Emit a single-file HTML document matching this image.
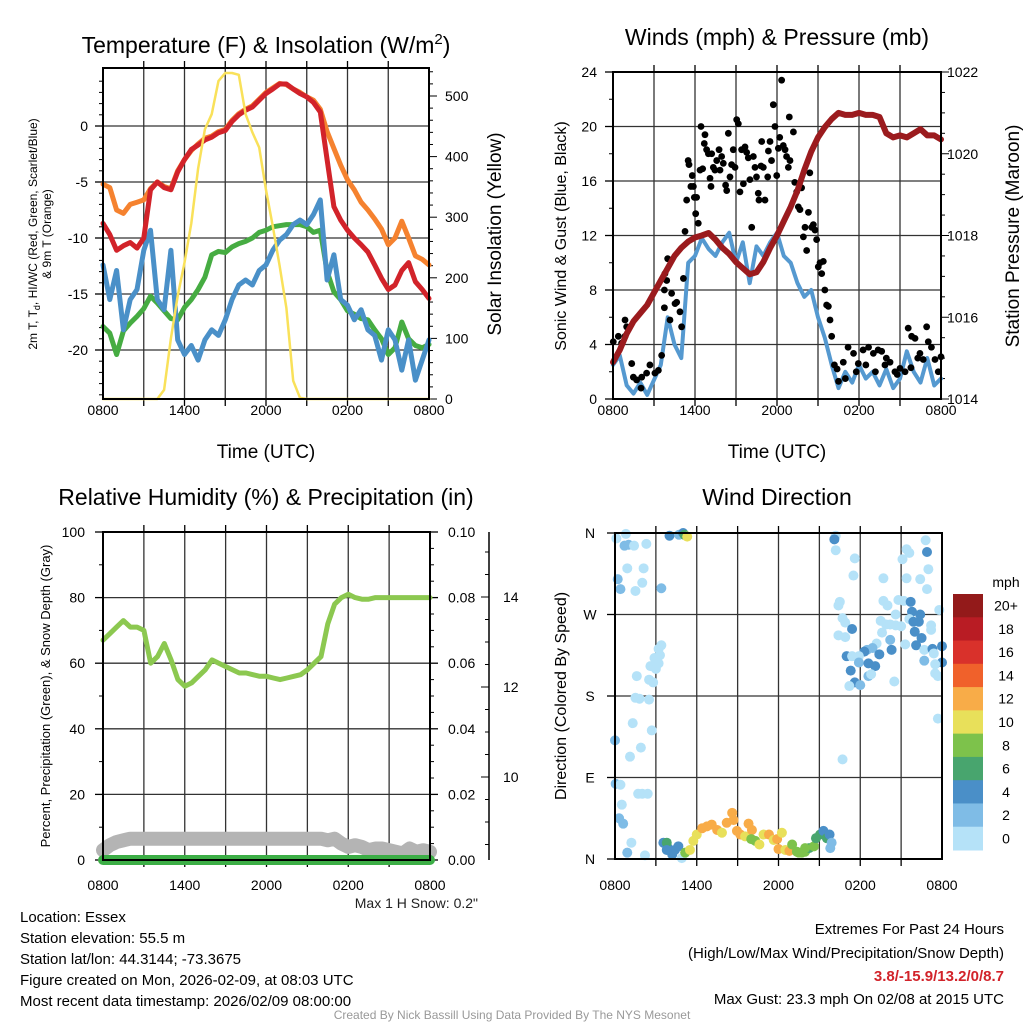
<!DOCTYPE html>
<html><head><meta charset="utf-8"><style>
body{margin:0;background:#fff;}
svg{display:block;font-family:"Liberation Sans",sans-serif;}
</style></head><body>
<svg id="s" width="1024" height="1024" viewBox="0 0 1024 1024">
</svg>
<script>
// ---------- DATA ----------
const hourTicks=["0800","1400","2000","0200","0800"];
const tempRed=[-8.7,-9.7,-11.1,-10.7,-10.4,-10.9,-10,-5.7,-5,-5.5,-5.7,-4.1,-3,-2.1,-1.7,-1.25,-1,-0.6,-0.4,0.4,1,1.4,1.7,2.3,2.9,3.3,3.75,3.75,3.3,2.9,2.6,2.1,1.25,-3,-7.2,-8.4,-9.3,-10,-10.6,-11.25,-12.4,-13.6,-14.6,-14.2,-12.9,-12.2,-13.9,-14.6,-15.4];
const tempOrange=[-5.2,-5.5,-7.5,-7.8,-7,-6.8,-6.6,-5.6,-5,-5.4,-5.6,-4,-3,-2.2,-1.6,-1.1,-0.9,-0.5,-0.3,0.5,1.1,1.5,1.8,2.4,3,3.4,3.8,3.7,3.3,3,2.6,2.3,1.5,-0.5,-2,-3.5,-4.8,-5.7,-6.8,-7.5,-8.3,-9.2,-10.6,-10,-8.5,-10,-11.6,-11.9,-12.4];
const tempGreen=[-17.9,-18.5,-20.4,-18.3,-17.6,-17,-16.3,-15.2,-15.8,-16.5,-17.2,-17.3,-16.2,-15.5,-14.6,-13.5,-11.5,-11.2,-11.3,-10.8,-10.5,-10.3,-10,-9.5,-9.3,-9,-8.9,-8.8,-8.8,-8.8,-9,-9.5,-9.3,-13,-14.8,-15.5,-16.5,-16.8,-17.2,-17.3,-18.2,-19,-20.4,-19.8,-17.5,-19,-19.6,-19.8,-19.5];
const tempBlue=[-12.4,-15.5,-12.9,-18.2,-15.5,-14.6,-11.1,-9.3,-15.5,-16.4,-11.1,-19.1,-20.4,-19.6,-20.9,-19.1,-18.2,-18.7,-17.3,-15.5,-14.2,-13.75,-14.2,-12.9,-12.4,-11.1,-10.2,-9.7,-8.8,-8.4,-8.8,-7.9,-6.6,-13.75,-11.5,-15.5,-16,-17.3,-16.4,-18.2,-18.7,-20.9,-18.2,-19.1,-21.8,-19.1,-22.7,-20.9,-19.1];
const solar=[0,0,0,0,0,0,0,0,0,15,100,170,225,290,380,445,470,525,538,538,535,470,440,415,345,285,220,150,30,2,0,0,0,0,0,0,0,0,0,0,0,0,0,0,0,0,0,0,0];
const tempTicks=[0,-5,-10,-15,-20];
const solarTicks=[0,100,200,300,400,500];

const windSpeed=[2.5,3.2,1.0,0.4,1.2,0.3,1.4,2.5,6.0,4.0,3.0,10.0,10.5,11.8,11.0,10.5,11.5,12.2,10.0,11.5,8.5,11.2,10.5,11.5,12.2,10.5,10.0,8.5,7.5,8.0,6.0,4.5,2.5,0.8,2.0,1.2,2.5,1.5,2.0,1.0,2.2,0.8,1.5,3.5,2.0,1.2,3.0,1.0,1.5];
const pressure=[1014.9,1015.2,1015.6,1015.9,1016.1,1016.3,1016.6,1016.9,1017.2,1017.5,1017.7,1017.85,1017.95,1018.0,1018.06,1017.9,1017.7,1017.55,1017.35,1017.2,1017.05,1017.1,1017.35,1017.7,1018.0,1018.35,1018.7,1019.1,1019.6,1020.05,1020.4,1020.65,1020.85,1021.0,1020.95,1020.95,1021.0,1020.95,1020.95,1020.9,1020.5,1020.4,1020.45,1020.4,1020.5,1020.6,1020.45,1020.45,1020.35];
const gustHours=[0.02,0.39,0.63,0.88,1.0,0.88,1.37,1.49,1.73,2.1,2.46,2.7,2.05,3.07,3.32,3.56,3.76,3.8,3.93,4.0,3.76,4.17,4.29,4.54,4.66,4.9,5.02,5.15,5.27,5.39,5.5,5.56,5.7,5.8,5.88,5.95,6.05,6.12,6.24,6.37,6.44,6.56,6.68,6.73,6.85,6.98,7.1,7.17,7.22,7.34,7.46,7.59,7.76,7.83,7.95,8.07,8.24,8.32,8.44,8.56,8.68,8.8,8.93,9.05,9.17,9.29,9.41,9.54,9.66,9.78,9.9,10.02,10.15,10.27,10.39,10.5,10.63,10.68,10.83,11.0,10.88,11.12,11.32,11.37,11.49,11.6,11.73,11.85,11.98,12.1,12.2,12.34,12.46,12.59,12.7,12.83,12.9,12.95,13.2,13.3,13.44,13.56,13.68,13.8,13.93,14.05,14.17,14.3,14.4,14.54,14.66,14.78,14.9,15.02,15.15,15.27,15.39,15.5,15.63,15.76,15.88,16.0,16.2,16.5,16.85,17.2,17.6,17.95,18.3,18.7,19.05,19.4,19.66,19.9,20.27,20.63,21.0,21.37,21.6,21.85,22.1,22.46,22.7,22.95,23.07,23.3,23.56,24.0,16.4,17.0,17.8,18.5,19.2,20.0,20.8,21.8,22.3,23.8];
const gustValues=[4.2,4.6,4.1,5.8,5.3,4.6,2.6,1.6,1.4,1.6,1.9,2.5,0.8,1.9,2.1,3.2,6.7,9.2,8.7,10.3,8.0,5.8,7.75,7.0,7.1,6.4,5.3,8.85,12.3,14.6,17.5,17.2,15.6,16.4,15.6,14.8,13.6,14.8,12.9,16.8,20.0,16.9,18.75,19.4,18.3,18.0,16.2,15.6,18.0,17.0,16.8,17.5,18.3,16.8,17.8,17.3,15.7,15.3,19.5,16.3,17.2,18.3,17.0,20.5,20.2,15.2,18.3,15.8,18.5,18.1,17.7,16.1,12.6,17.8,17.0,16.3,15.1,14.6,17.1,17.0,18.9,14.6,16.3,18.2,18.9,17.5,21.6,20.0,16.4,18.4,19.2,23.4,18.6,18.3,17.8,17.0,20.7,17.5,19.6,15.9,15.2,14.1,13.9,15.5,11.9,12.6,10.9,13.7,16.6,12.6,12.8,12.4,11.7,9.7,10.0,9.2,10.1,8.0,6.9,6.8,5.8,4.6,2.5,1.3,2.7,3.8,3.35,2.6,3.6,3.8,3.35,3.6,3.5,2.5,2.7,2.0,2.25,2.0,5.2,4.6,4.45,3.35,2.9,5.3,4.2,3.8,2.9,3.1,2.2,1.5,2.0,2.5,2.0,3.0,1.8,2.3,3.0,2.0];
const windTicks=[0,4,8,12,16,20,24];
const pressTicks=[1014,1016,1018,1020,1022];

const rhValues=[67,69,71,73,71,71,70,60,62,66,61,55,53,54,56,58,61,60,59,58,57,57,56.5,56,56,55.5,55,55.5,56,56.5,58,60,62,72,78,80,81,80,79.5,79.5,80,80,80,80,80,80,80,80,80];
const snowDepth=[3,4.5,5.5,6,6.5,6.5,6.5,6.5,6.5,6.5,6.5,6.5,6.5,6.5,6.5,6.5,6.5,6.5,6.5,6.5,6.5,6.5,6.5,6.5,6.5,6.5,6.5,6.5,6.5,6.5,6.5,6.5,6.5,6,6.5,5,4,4.5,4,3,3.5,3.5,3,2.5,2,3.5,2.5,3,2.5];
const precip=[0,0,0,0,0,0,0,0,0,0,0,0,0,0,0,0,0,0,0,0,0,0,0,0,0];
const rhTicks=[0,20,40,60,80,100];
const precipTicks=["0.00","0.02","0.04","0.06","0.08","0.10"];
const snowTicks=[10,12,14];

// wind direction scatter (hour since 0800, degrees, speed mph)
const dirHours=[
0.1,0.8,0.7,1.0,1.4,2.3,0.9,2.1,0.2,0.4,1.5,2.0,3.4,4.0,4.7,5.0,5.1,5.3,3.4,3.2,3.3,2.9,3.2,2.6,3.0,1.6,2.5,2.8,1.5,1.8,2.5,1.3,2.7,0.0,1.9,1.1,0.05,0.4,1.7,2.0,2.4,0.5,0.3,0.6,1.2,0.9,2.2,
3.55,3.9,4.2,4.4,3.8,4.65,4.9,5.15,5.5,5.75,6.0,6.4,6.75,7.1,7.5,7.85,8.2,8.6,8.7,8.95,9.2,9.55,9.8,10.05,10.0,10.3,10.6,10.9,11.3,11.65,11.9,12.0,12.25,12.5,12.8,13.0,13.35,13.7,13.95,14.25,14.6,14.75,15.05,15.3,15.55,15.75,15.9,15.8,4.2,3.8,13.95,13.5,
16.2,16.1,16.2,17.6,17.5,16.5,16.4,16.7,16.9,17.4,16.4,16.9,19.7,21.4,22.4,23.0,22.9,22.8,22.9,21.4,21.6,21.1,19.7,20.0,20.8,21.2,21.7,21.8,22.4,20.6,23.8,21.6,21.9,22.3,23.2,23.2,19.5,19.9,20.2,20.6,21.0,19.6,20.2,22.0,22.5,19.2,18.9,18.5,18.3,20.3,21.3,22.1,22.7,23.3,24.0,17.0,17.4,17.9,17.9,18.6,19.1,19.4,23.4,24.0,23.5,22.7,17.3,18.6,18.8,17.6,18.0,17.2,20.5,23.5,23.7,23.7,16.7,17.8];
const dirDegs=[
354,359,346,347,346,348,321,321,309,298,296,305,299,357,358,360,358,356,236,232,225,222,216,213,210,202,198,195,178,177,176,150,142,131,123,113,83,82,72,72,72,60,45,39,18,7,4,
18,12,8,10,18,14,1,7,10,20,27,34,36,38,32,29,40,51,43,31,27,25,39,32,22,20,16,27,27,21,22,11,29,10,9,16,8,7,8,12,14,23,27,31,23,27,18,12,5,10,12,7,
357,353,341,332,313,284,280,266,261,254,247,245,310,310,309,320,298,352,339,342,338,331,285,280,286,285,284,273,270,270,275,265,262,262,258,253,263,259,259,258,257,250,242,251,244,238,233,231,229,231,237,236,231,232,235,224,224,224,217,216,213,226,227,217,215,219,208,202,204,195,192,191,196,205,202,155,110,68];
const dirSpeeds=[
1,1,3,3,1,1,1,1,3,3,1,1,3,5,3,5,7,11,1,1,1,1,1,1,1,1,1,1,1,1,1,1,1,3,1,1,3,1,1,1,1,1,3,3,1,3,1,
5,5,5,5,7,5,1,9,11,11,11,13,13,13,13,11,13,13,13,13,13,11,13,13,9,9,11,11,13,11,13,13,11,11,13,9,9,9,9,7,9,7,7,5,7,5,3,3,5,5,9,9,
1,5,1,1,1,1,1,1,1,5,1,1,1,1,1,1,1,1,5,1,1,1,1,1,1,1,5,5,5,1,1,1,5,5,1,1,1,1,1,1,1,1,3,5,5,1,3,3,5,5,1,5,1,5,5,5,1,1,3,5,5,5,1,5,1,3,5,3,1,5,3,1,1,1,1,1,1];
const dirLabels=["N","E","S","W","N"];
const cbarLabels=["20+","18","16","14","12","10","8","6","4","2","0"];
const cbarColors=["#931a1a","#b91c24","#d9312b","#f0612b","#f8ac48","#e8e05a","#7dc24b","#48a56e","#4a8fc8","#7fbce6","#b5e2f8"];

// ---------- HELPERS ----------
const NS="http://www.w3.org/2000/svg";
const svg=document.getElementById('s');
function mk(tag,attrs,parent){const e=document.createElementNS(NS,tag);for(const k in attrs)e.setAttribute(k,attrs[k]);(parent||svg).appendChild(e);return e;}
function txt(s,x,y,size,anchor,parent,extra){const e=mk('text',Object.assign({x:x,y:y,'font-size':size,'text-anchor':anchor||'middle',fill:'#000'},extra||{}),parent);e.textContent=s;return e;}
function grp(name){const g=mk('g',{});return g;}
function line(x1,y1,x2,y2,w,c,p){return mk('line',{x1:x1,y1:y1,x2:x2,y2:y2,stroke:c||'#000','stroke-width':w||1},p);}
function series(vals,xf,yf,color,w,p,name){const n=vals.length;let d='';vals.forEach((v,i)=>{d+=(i?'L':'M')+xf(i*24/(n-1)).toFixed(1)+' '+yf(v).toFixed(1);});const e=mk('path',{d:d,fill:'none',stroke:color,'stroke-width':w,'stroke-linejoin':'round','stroke-linecap':'round'},p);


return e;}
function frame(x0,y0,x1,y1,gx,gy,p){
  gx.forEach(x=>line(x,y0,x,y1,1.3,'#333',p));
  gy.forEach(y=>line(x0,y,x1,y,1.3,'#333',p));
  gx.forEach(x=>{line(x,y0-7,x,y0,1.3,'#000',p);line(x,y1,x,y1+7,1.3,'#000',p);});
}
function box(x0,y0,x1,y1,p){const r=mk('rect',{x:x0,y:y0,width:x1-x0,height:y1-y0,fill:'none',stroke:'#000','stroke-width':2},p);

}
function xTicks(x0,x1,y,p){hourTicks.forEach((t,i)=>{const e=txt(t,x0+(x1-x0)*i/4,y,14,'middle',p);

});}
function gridX(x0,x1){const a=[];for(let i=1;i<8;i++)a.push(x0+(x1-x0)*i/8);return a;}

// ---------- PANEL 1 ----------
(function(){
const g=grp('temperature-panel');
const X0=103,X1=429,Y0=68,Y1=399;
const xs=h=>X0+h*(X1-X0)/24, yT=t=>126-t*11.2, yS=w=>399-w*0.606;
frame(X0,Y0,X1,Y1,gridX(X0,X1),tempTicks.map(yT),g);
tempTicks.forEach(t=>{line(X0-8,yT(t),X0,yT(t),1.3,'#000',g);const e=txt(String(t),88,yT(t)+5,14,'end',g);

});
for(let t=-24;t<=5;t++){if(t%5)line(X0-4,yT(t),X0,yT(t),1,'#000',g);}
for(let w=0;w<=540;w+=20){line(X1,yS(w),X1+(w%100?4:8),yS(w),1,'#000',g);}
solarTicks.forEach(w=>{const e=txt(String(w),445,yS(w)+5,14,'start',g);

});
series(tempOrange,xs,yT,'#f5822f',5,g,'temp-9m-orange');
series(tempGreen,xs,yT,'#46ac42',5,g,'dewpoint-green');
series(tempBlue,xs,yT,'#4a90c8',5,g,'windchill-blue');
series(tempRed,xs,yT,'#d2232a',5,g,'temp-2m-red');
series(solar,xs,yS,'#f9e15a',2.5,g,'solar-insolation-yellow');
box(X0,Y0,X1,Y1,g);
xTicks(X0,X1,415,g);
let e=txt('Time (UTC)',266,458,19,'middle',g);


e=mk('text',{x:266,y:53,'font-size':23,'text-anchor':'middle'},g);
e.innerHTML='Temperature (F) &amp; Insolation (W/m<tspan dy="-9" font-size="15">2</tspan><tspan dy="9">)</tspan>';


e=mk('text',{x:0,y:0,'font-size':12,'text-anchor':'middle',transform:'translate(37,234) rotate(-90)'},g);
e.innerHTML='2m T, T<tspan dy="3" font-size="9">d</tspan><tspan dy="-3">, HI/WC (Red, Green, Scarlet/Blue)</tspan>';


e=txt('& 9m T (Orange)',0,0,12,'middle',g,{transform:'translate(51,234) rotate(-90)'});


e=txt('Solar Insolation (Yellow)',0,0,19,'middle',g,{transform:'translate(501,234) rotate(-90)'});


})();

// ---------- PANEL 2 ----------
(function(){
const g=grp('winds-panel');
const X0=613,X1=941,Y0=72,Y1=399;
const xs=h=>X0+h*(X1-X0)/24, yW=v=>399-v*13.625, yP=p=>399-(p-1014)*40.875;
frame(X0,Y0,X1,Y1,gridX(X0,X1),windTicks.slice(1,-1).map(yW),g);
windTicks.forEach(v=>{line(X0-8,yW(v),X0,yW(v),1.3,'#000',g);const e=txt(String(v),597,yW(v)+5,14,'end',g);

});
for(let v=2;v<24;v+=4)line(X0-4,yW(v),X0,yW(v),1,'#000',g);
for(let p=1014;p<=1022;p+=0.5)line(X1,yP(p),X1+(p%2?4:8),yP(p),1,'#000',g);
pressTicks.forEach(p=>{const e=txt(String(p),947,yP(p)+5,14,'start',g);

});
series(windSpeed,xs,yW,'#5599d0',4,g,'sonic-wind-blue');
gustHours.forEach((h,i)=>{const c=mk('circle',{cx:xs(h),cy:yW(gustValues[i]),r:3.4,fill:'#000'},g);

});
series(pressure,xs,yP,'#9b1b1e',6,g,'station-pressure-maroon');
box(X0,Y0,X1,Y1,g);
xTicks(X0,X1,415,g);
let e=txt('Time (UTC)',777,458,19,'middle',g);


e=txt('Winds (mph) & Pressure (mb)',777,45,23,'middle',g);


e=txt('Sonic Wind & Gust (Blue, Black)',0,0,16,'middle',g,{transform:'translate(566,236) rotate(-90)'});


e=txt('Station Pressure (Maroon)',0,0,19,'middle',g,{transform:'translate(1019,236) rotate(-90)'});


})();

// ---------- PANEL 3 ----------
(function(){
const g=grp('humidity-panel');
const X0=103,X1=430,Y0=532,Y1=860;
const xs=h=>X0+h*(X1-X0)/24, yR=v=>860-v*3.28, ySn=s=>777-(s-10)*45;
frame(X0,Y0,X1,Y1,gridX(X0,X1),rhTicks.slice(1).map(yR),g);
rhTicks.forEach((v,i)=>{line(X0-8,yR(v),X0,yR(v),1.3,'#000',g);line(X1,yR(v),X1+8,yR(v),1.3,'#000',g);
let e=txt(String(v),85,yR(v)+5,14,'end',g);


e=txt(precipTicks[i],448,yR(v)+5,14,'start',g);

});
for(let v=10;v<100;v+=20){line(X0-4,yR(v),X0,yR(v),1,'#000',g);}
for(let v=5;v<100;v+=5){if(v%20)line(X1,yR(v),X1+4,yR(v),1,'#000',g);}
line(489,532,489,860,1.5,'#000',g);
for(let s=8.5;s<=15.5;s+=0.5){const y=ySn(s);if(y>=532&&y<=860)line(489-(s%2===0?8:4),y,489,y,1,'#000',g);}
snowTicks.forEach(s=>{const e=txt(String(s),503,ySn(s)+5,14,'start',g);

});
series(rhValues,xs,yR,'#8cc850',5,g,'relative-humidity-green');
series(snowDepth,xs,yR,'#b4b4b4',14,g,'snow-depth-gray');
series(precip,xs,v=>860-v*3280,'#3cae46',10,g,'precipitation-green');
box(X0,Y0,X1,Y1,g);
xTicks(X0,X1,890,g);
let e=txt('Relative Humidity (%) & Precipitation (in)',266,505,23,'middle',g);


e=txt('Percent, Precipitation (Green), & Snow Depth (Gray)',0,0,13,'middle',g,{transform:'translate(50,696) rotate(-90)'});


e=txt('Max 1 H Snow: 0.2"',478,908,14,'end',g,{fill:'#222'});


})();

// ---------- PANEL 4 ----------
(function(){
const g=grp('wind-direction-panel');
const X0=615,X1=942,Y0=533,Y1=859;
const xs=h=>X0+h*(X1-X0)/24, yD=d=>859-d*(Y1-Y0)/360;
frame(X0,Y0,X1,Y1,gridX(X0,X1),[90,180,270].map(yD),g);
dirLabels.forEach((l,i)=>{line(X0-8,yD(i*90),X0,yD(i*90),1.3,'#000',g);const e=txt(l,590,yD(i*90)+5,14,'middle',g);

});
const n=Math.min(dirHours.length,dirDegs.length,dirSpeeds.length);
for(let i=0;i<n;i++){const c=mk('circle',{cx:xs(dirHours[i]),cy:yD(dirDegs[i]),r:5,fill:cbarColors[10-Math.min(10,Math.floor(dirSpeeds[i]/2))]},g);

}
box(X0,Y0,X1,Y1,g);
xTicks(X0,X1,890,g);
let e=txt('Wind Direction',777,505,23,'middle',g);


e=txt('Direction (Colored By Speed)',0,0,16,'middle',g,{transform:'translate(566,696) rotate(-90)'});


const cb=grp('colorbar');
const bh=(850-594)/11;
cbarColors.forEach((c,i)=>{const r=mk('rect',{x:953,y:594+i*bh,width:30,height:bh+0.5,fill:c},cb);


const t=txt(cbarLabels[i],1006,594+i*bh+bh/2+5,14,'middle',cb);

});
e=txt('mph',1006,587,14,'middle',cb);


})();

// ---------- FOOTER ----------
(function(){
const g=grp('footer-info');
const left=["Location: Essex","Station elevation: 55.5 m","Station lat/lon: 44.3144; -73.3675","Figure created on Mon, 2026-02-09, at 08:03 UTC","Most recent data timestamp: 2026/02/09 08:00:00"];
left.forEach((s,i)=>{const e=txt(s,20,922+i*21,15,'start',g);

});
let e=txt('Extremes For Past 24 Hours',1004,934,15,'end',g);


e=txt('(High/Low/Max Wind/Precipitation/Snow Depth)',1004,958,15,'end',g);


e=txt('3.8/-15.9/13.2/0/8.7',1004,981,15,'end',g,{fill:'#d2232a','font-weight':'bold'});


e=txt('Max Gust: 23.3 mph On 02/08 at 2015 UTC',1004,1004,15,'end',g);


e=txt('Created By Nick Bassill Using Data Provided By The NYS Mesonet',512,1019,12,'middle',g,{fill:'#999'});


})();
</script>
</body></html>
